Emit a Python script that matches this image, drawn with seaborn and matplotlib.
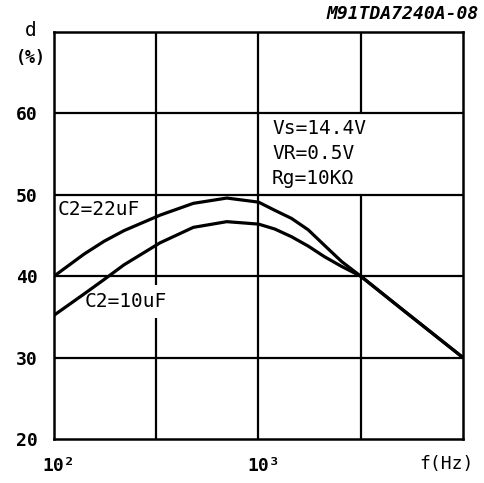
import numpy as np
import pandas as pd
import matplotlib
matplotlib.use("Agg")
import matplotlib.pyplot as plt
import matplotlib.transforms as mtransforms
import seaborn as sns

# ---- data ----
freq_hz = [100, 140, 176, 220, 330, 480, 700, 1000, 1200, 1450, 1750, 2100, 2550, 3162, 5000, 10000]
d_c2_22uF = [40.0, 42.7, 44.3, 45.6, 47.5, 48.95, 49.6, 49.1, 48.1, 47.1, 45.7, 43.8, 41.8, 40.0, 36.0, 30.0]
d_c2_10uF = [35.2, 37.8, 39.6, 41.4, 44.1, 46.0, 46.7, 46.4, 45.8, 44.85, 43.7, 42.4, 41.2, 40.0, 36.0, 30.0]
series_names = ["C2=22uF", "C2=10uF"]
y_ticks = [20, 30, 40, 50, 60]
x_tick_pos = [100, 1000]
x_tick_labels = ["10²", "10³"]
conditions = ["Vs=14.4V", "VR=0.5V", "Rg=10KΩ"]
code_label = "M91TDA7240A-08"

df = pd.DataFrame({
    "f": freq_hz * 2,
    "d": d_c2_22uF + d_c2_10uF,
    "series": [series_names[0]] * len(freq_hz) + [series_names[1]] * len(freq_hz),
})

sns.set_style("white")
plt.rcParams["font.family"] = ["DejaVu Sans Mono", "DejaVu Sans"]
plt.rcParams["text.color"] = "black"
plt.rcParams["xtick.color"] = "black"
plt.rcParams["ytick.color"] = "black"
plt.rcParams["axes.labelcolor"] = "black"

fig = plt.figure(figsize=(4.85, 4.83), dpi=100)
ax = fig.add_axes([54 / 485, 1 - 439 / 483, (463 - 54) / 485, (439 - 32) / 483])

sns.lineplot(data=df, x="f", y="d", hue="series", palette=["black", "black"],
             linewidth=2.3, legend=False, ax=ax, sort=False, estimator=None)
for ln in ax.lines:
    ln.set_solid_joinstyle("round")
    ln.set_solid_capstyle("round")
    ln.set_zorder(3)

ax.set_xscale("log")
ax.set_xlim(100, 10000)
ax.set_ylim(20, 70)

# grid
gl = dict(color="black", linewidth=1.6, zorder=1)
for y in [30, 40, 50, 60]:
    ax.axhline(y, **gl)
ax.axvline(10 ** 2.5, **gl)
ax.axvline(1000, **gl)
ax.axvline(10 ** 3.5, ymax=0.6, **gl)
ax.axvline(10 ** 3.5, ymin=0.8, **gl)

for s in ax.spines.values():
    s.set_color("black")
    s.set_linewidth(1.8)

ax.set_yticks(y_ticks)
ax.set_yticklabels([str(v) for v in y_ticks], fontsize=13, fontweight="bold")
ax.set_xticks(x_tick_pos)
ax.set_xticklabels(x_tick_labels, fontsize=13, fontweight="bold")
ax.xaxis.set_minor_locator(matplotlib.ticker.NullLocator())
ax.tick_params(axis="y", length=0, pad=12, colors="black")
ax.tick_params(axis="x", length=0, pad=13, colors="black")
shift = mtransforms.ScaledTranslation(5 / 100, 0, fig.dpi_scale_trans)
for lbl in ax.get_xticklabels():
    lbl.set_transform(lbl.get_transform() + shift)
ax.set_xlabel("")
ax.set_ylabel("")

# axis captions
fig.text(31 / 485, 1 - 30 / 483, "d", fontsize=14, ha="center", va="center")
fig.text(31 / 485, 1 - 58 / 483, "(%)", fontsize=12, fontweight="bold", ha="center", va="center")
fig.text(446 / 485, 1 - 464 / 483, "f(Hz)", fontsize=13, ha="center", va="center")
fig.text(479 / 485, 1 - 14 / 483, code_label, fontsize=13, style="italic",
         fontweight="bold", ha="right", va="center")

# curve labels
ax.text(0.008, 0.563, series_names[0], transform=ax.transAxes, fontsize=14,
        ha="left", va="center", zorder=2)
ax.text(0.075, 0.337, series_names[1], transform=ax.transAxes, fontsize=14,
        ha="left", va="center", zorder=2,
        bbox=dict(facecolor="white", edgecolor="none", pad=5))

# conditions box text
for i, t in enumerate(conditions):
    ax.text(0.533, 0.764 - i * 0.062, t, transform=ax.transAxes, fontsize=14,
            ha="left", va="center")

fig.savefig("out.png", dpi=100)
